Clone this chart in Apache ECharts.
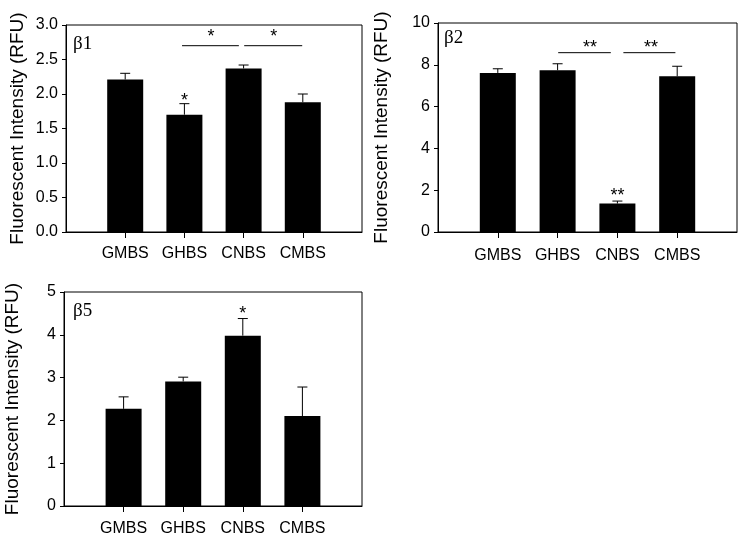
<!DOCTYPE html>
<html><head><meta charset="utf-8">
<script src="https://cdn.jsdelivr.net/npm/echarts@6/dist/echarts.min.js"></script>
<style>html,body{margin:0;padding:0;background:#fff}#c{width:747px;height:544px}</style>
</head><body><div id="c"></div>
<script>
// ---- data ----
const categories = ['GMBS', 'GHBS', 'CNBS', 'CMBS'];
const catPositions = [1, 2, 3, 4];

const b1Values = [2.21, 1.70, 2.37, 1.88];
const b1ErrTop = [2.30, 1.86, 2.42, 2.00];
const b1SigLines = [[1.96, 2.92, 2.70], [3.01, 3.99, 2.70]];
const b1Marks = [[2.45, 2.83, '*'], [3.51, 2.83, '*'], [2, 1.90, '*']];

const b2Values = [7.61, 7.74, 1.36, 7.45];
const b2ErrTop = [7.81, 8.05, 1.48, 7.93];
const b2SigLines = [[2.01, 2.89, 8.58], [3.10, 3.97, 8.58]];
const b2Marks = [[2.54, 8.80, '**'], [3.56, 8.80, '**'], [3, 1.72, '**']];

const b5Values = [2.27, 2.91, 3.98, 2.10];
const b5ErrTop = [2.55, 3.01, 4.38, 2.78];
const b5SigLines = [];
const b5Marks = [[3, 4.49, '*']];

const panelLabels = ['β1', 'β2', 'β5'];
const yTitle = 'Fluorescent Intensity (RFU)';

// ---- layout ----
const panels = [
  {grid: {left: 66, top: 25, width: 296, height: 207}, ymax: 3, yint: 0.5, dec: 1, gap: 38.5, xm: 14,
   vals: b1Values, err: b1ErrTop, sig: b1SigLines, marks: b1Marks, lab: {left: 73, top: 35}},
  {grid: {left: 438, top: 23, width: 299, height: 209}, ymax: 10, yint: 2, dec: 0, gap: 47, xm: 16,
   vals: b2Values, err: b2ErrTop, sig: b2SigLines, marks: b2Marks, lab: {left: 444, top: 29}},
  {grid: {left: 64, top: 292, width: 298, height: 214}, ymax: 5, yint: 1, dec: 0, gap: 41.5, xm: 15,
   vals: b5Values, err: b5ErrTop, sig: b5SigLines, marks: b5Marks, lab: {left: 73, top: 302}}
];

const SANS = 'Liberation Sans, Arial, sans-serif';
const option = {
  animation: false,
  backgroundColor: '#fff',
  title: [], grid: [], xAxis: [], yAxis: [], series: []
};

panels.forEach((p, gi) => {
  option.title.push({text: panelLabels[gi], left: p.lab.left, top: p.lab.top, padding: 0,
    textStyle: {fontFamily: 'Liberation Serif, Times New Roman, serif', fontSize: 19, fontWeight: 'normal', color: '#000'}});
  option.grid.push(Object.assign({show: true, borderColor: '#000', borderWidth: 1, backgroundColor: 'transparent', containLabel: false}, p.grid));
  option.xAxis.push({
    type: 'value', gridIndex: gi, min: 0, max: 5, interval: 1,
    axisLine: {show: true, onZero: false, lineStyle: {color: '#000', width: 1}},
    axisTick: {show: true, length: 6, inside: false, customValues: catPositions, lineStyle: {color: '#000'}},
    axisLabel: {show: true, customValues: catPositions, margin: p.xm, fontSize: 16, fontFamily: SANS, color: '#000',
      formatter: v => { const i = catPositions.indexOf(v); return i >= 0 ? categories[i] : ''; }},
    splitLine: {show: false}
  });
  option.yAxis.push({
    type: 'value', gridIndex: gi, min: 0, max: p.ymax, interval: p.yint,
    name: yTitle, nameLocation: 'middle', nameGap: p.gap,
    nameTextStyle: {fontSize: 19, fontFamily: SANS, color: '#000'},
    axisLine: {show: true, lineStyle: {color: '#000', width: 1}},
    axisTick: {show: true, length: 4, inside: false, lineStyle: {color: '#000'}},
    axisLabel: {margin: 8, fontSize: 16, fontFamily: SANS, color: '#000', formatter: v => v.toFixed(p.dec)},
    splitLine: {show: false}
  });
  // bars
  option.series.push({
    type: 'bar', xAxisIndex: gi, yAxisIndex: gi, barWidth: 36,
    itemStyle: {color: '#000'},
    data: catPositions.map((x, i) => [x, p.vals[i]]), z: 2
  });
  // error bars
  option.series.push({
    type: 'custom', xAxisIndex: gi, yAxisIndex: gi, z: 3,
    data: catPositions.map((x, i) => [x, p.vals[i], p.err[i]]),
    renderItem: (params, api) => {
      const a = api.coord([api.value(0), api.value(1)]);
      const b = api.coord([api.value(0), api.value(2)]);
      const hw = 5;
      return {type: 'group', children: [
        {type: 'line', shape: {x1: a[0], y1: a[1], x2: b[0], y2: b[1]}, style: {stroke: '#000', lineWidth: 1}},
        {type: 'line', shape: {x1: b[0] - hw, y1: b[1], x2: b[0] + hw, y2: b[1]}, style: {stroke: '#000', lineWidth: 1}}
      ]};
    }
  });
  // significance lines
  option.series.push({
    type: 'custom', xAxisIndex: gi, yAxisIndex: gi, z: 3,
    data: p.sig,
    renderItem: (params, api) => {
      const a = api.coord([api.value(0), api.value(2)]);
      const b = api.coord([api.value(1), api.value(2)]);
      return {type: 'line', shape: {x1: a[0], y1: a[1], x2: b[0], y2: b[1]}, style: {stroke: '#000', lineWidth: 1}};
    }
  });
  // asterisks
  option.series.push({
    type: 'custom', xAxisIndex: gi, yAxisIndex: gi, z: 4,
    data: p.marks,
    renderItem: (params, api) => {
      const pt = api.coord([api.value(0), api.value(1)]);
      return {type: 'text', x: pt[0], y: pt[1], style: {text: p.marks[params.dataIndex][2], fill: '#000',
        font: '18px ' + SANS, textAlign: 'center', textVerticalAlign: 'middle'}};
    }
  });
});

echarts.init(document.getElementById('c'), null, {renderer: 'canvas'}).setOption(option);
</script></body></html>
